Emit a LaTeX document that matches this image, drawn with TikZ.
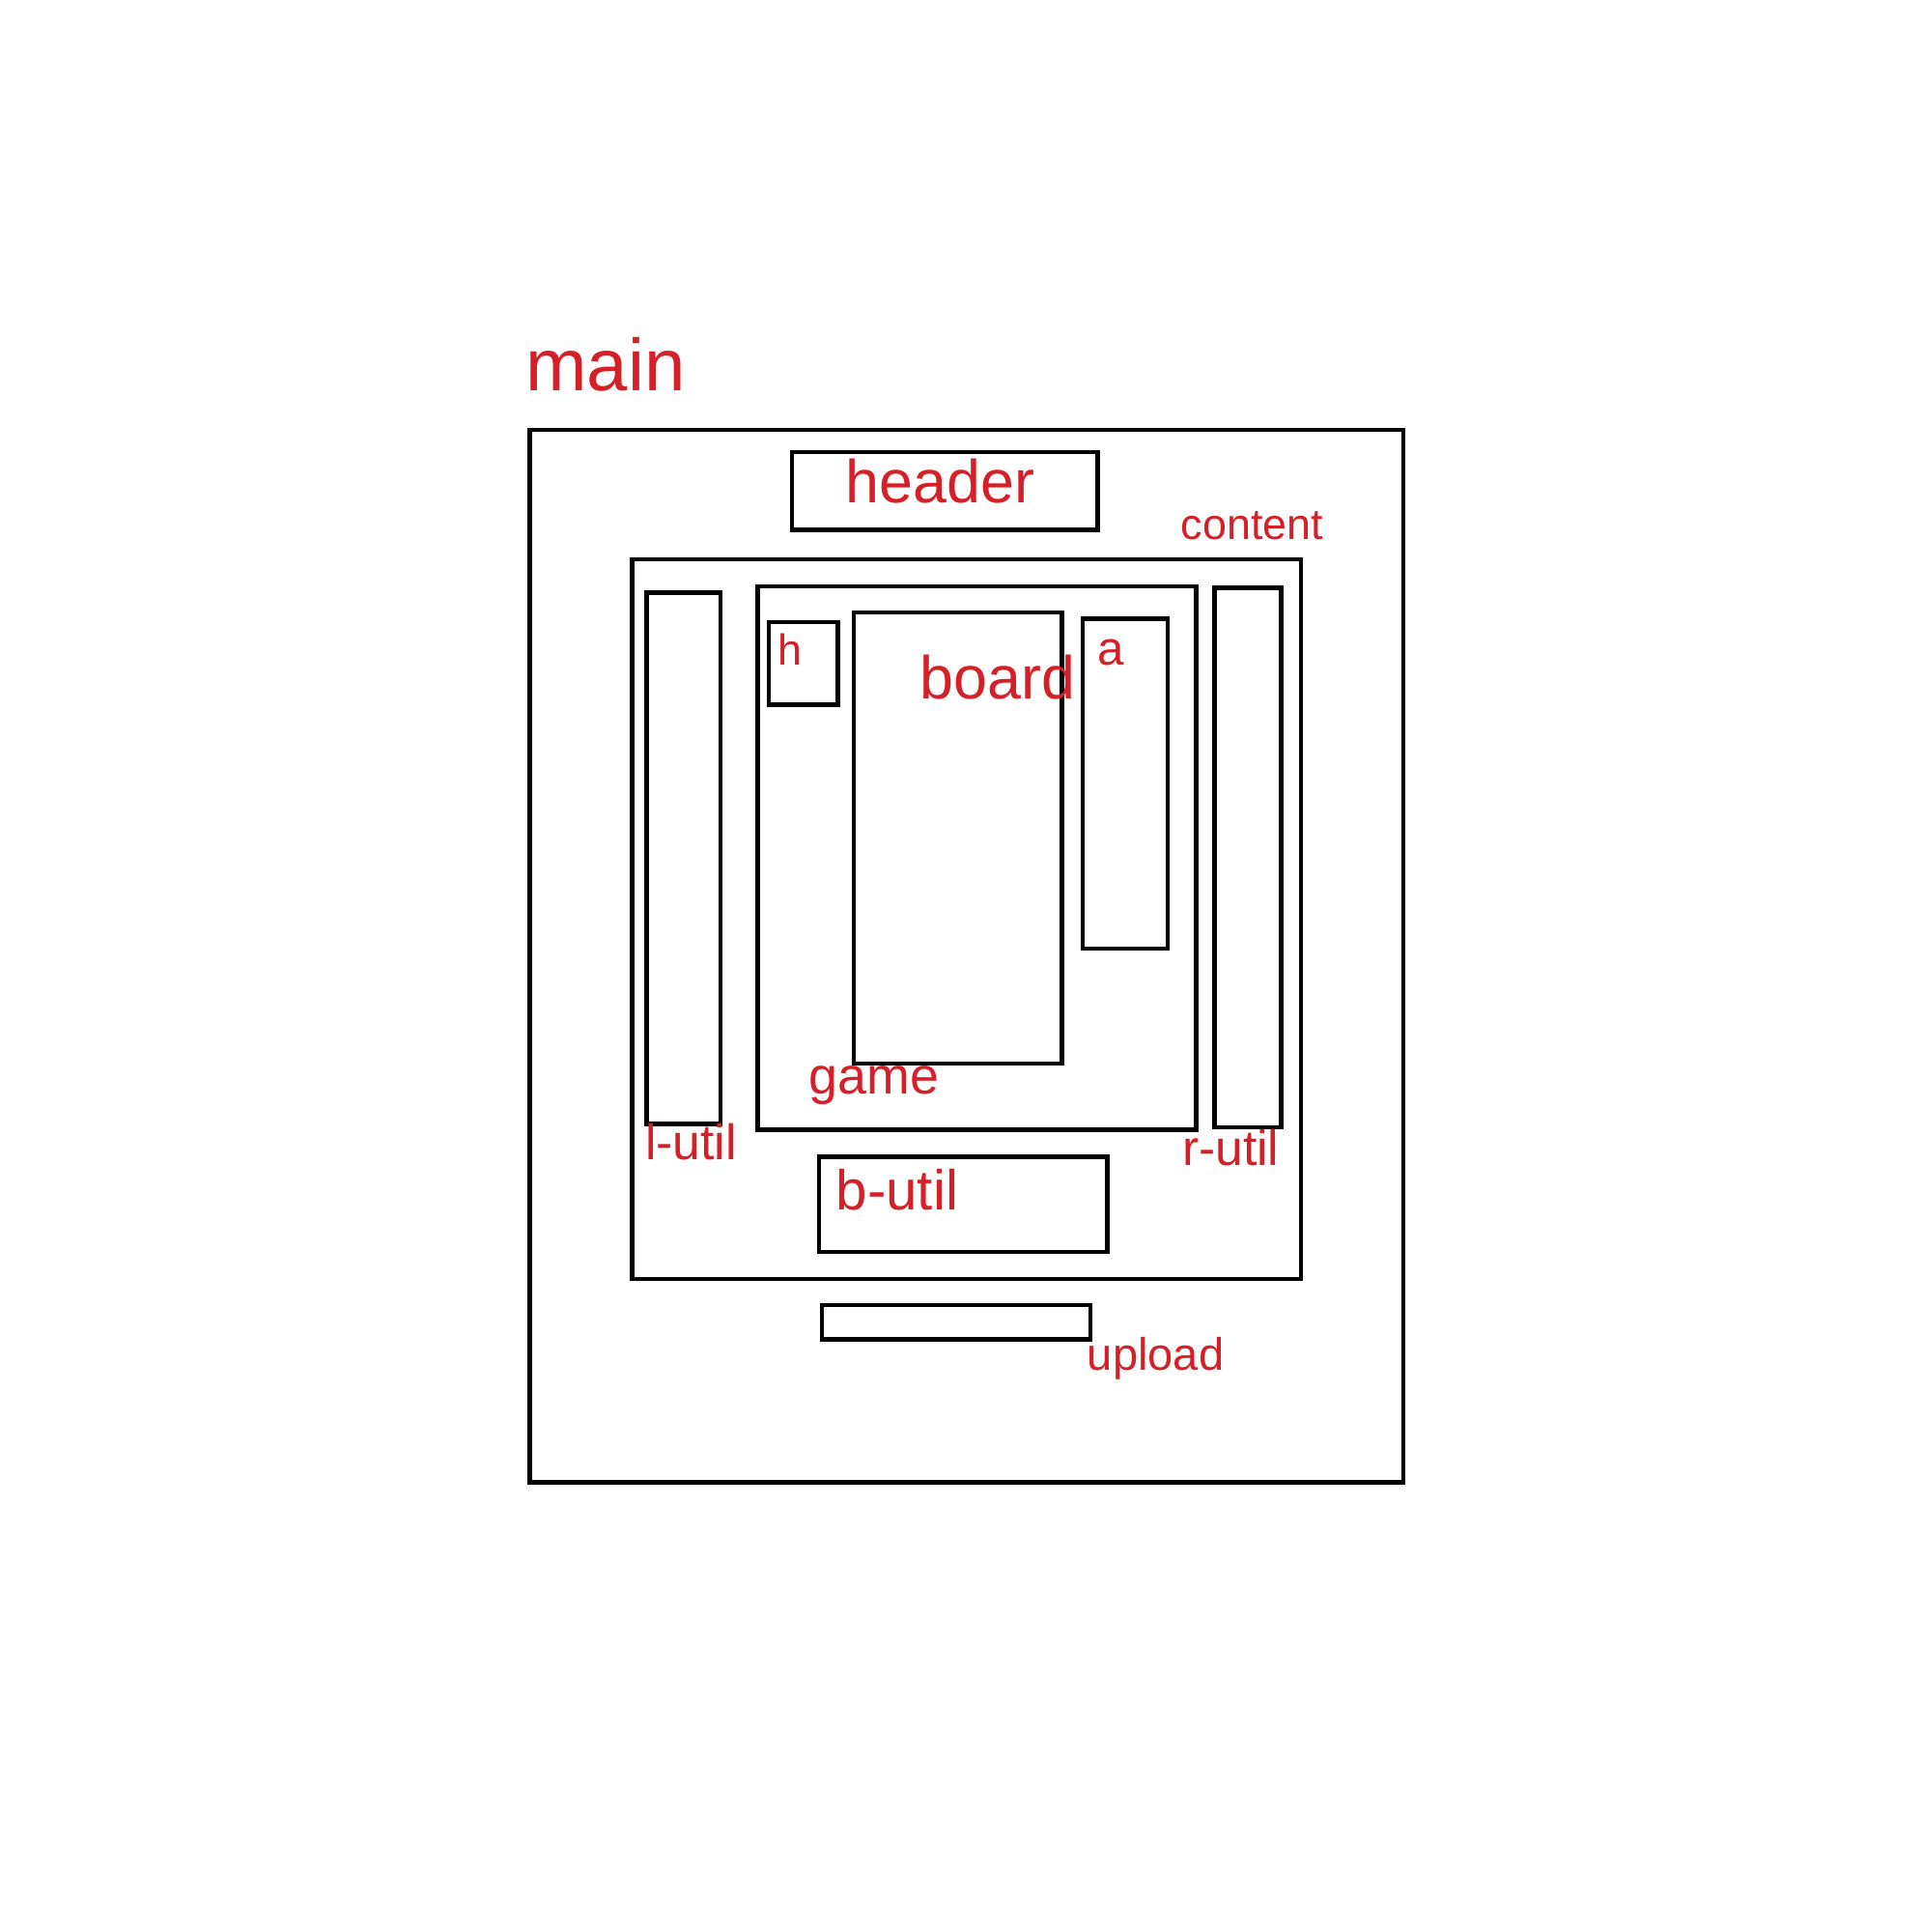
\documentclass[tikz,border=0pt]{standalone}
\usepackage{fontspec}
\setmainfont{Liberation Sans}
\definecolor{inkred}{RGB}{214,32,39}
\begin{document}
\begin{tikzpicture}[x=0.1mm,y=-0.1mm,line width=0.35mm,
  lbl/.style={inkred,anchor=base west,inner sep=0pt,font=\fontsize{13}{13}\selectfont}]
\useasboundingbox (0,0) rectangle (1560,1568);
\draw (430,349) rectangle (1139,1203);
\node[lbl,font=\fontsize{17}{17}\selectfont] (mainlbl) at (425,317) {main};
\draw (643,367) rectangle (891,430);
\node[lbl,font=\fontsize{14}{14}\selectfont] (headerlbl) at (685,408) {header};
\draw (513,454) rectangle (1056,1038);
\node[lbl,font=\fontsize{10}{10}\selectfont] (contentlbl) at (957,438) {content};
\draw (525,481) rectangle (585,912);
\node[lbl,font=\fontsize{11.5}{11.5}\selectfont] (lutillbl) at (522,941) {l-util};
\draw (615,476) rectangle (971,917);
\node[lbl,font=\fontsize{12}{12}\selectfont] (gamelbl) at (655,888) {game};
\draw (624,505) rectangle (680,572);
\node[lbl,font=\fontsize{10}{10}\selectfont] (hlbl) at (630,540) {h};
\draw (693,497) rectangle (862,863);
\node[lbl,font=\fontsize{14}{14}\selectfont] (boardlbl) at (745,567) {board};
\draw (879,502) rectangle (948,770);
\node[lbl,font=\fontsize{11}{11}\selectfont] (albl) at (889,540) {a};
\draw (986,477) rectangle (1040,915);
\node[lbl,font=\fontsize{11.5}{11.5}\selectfont] (rutillbl) at (958,946) {r-util};
\draw (665,939) rectangle (899,1016);
\node[lbl] (butillbl) at (677,982) {b-util};
\draw (667,1059) rectangle (885,1087);
\node[lbl,font=\fontsize{10.5}{10.5}\selectfont] (uploadlbl) at (881,1112) {upload};
\end{tikzpicture}
\end{document}
